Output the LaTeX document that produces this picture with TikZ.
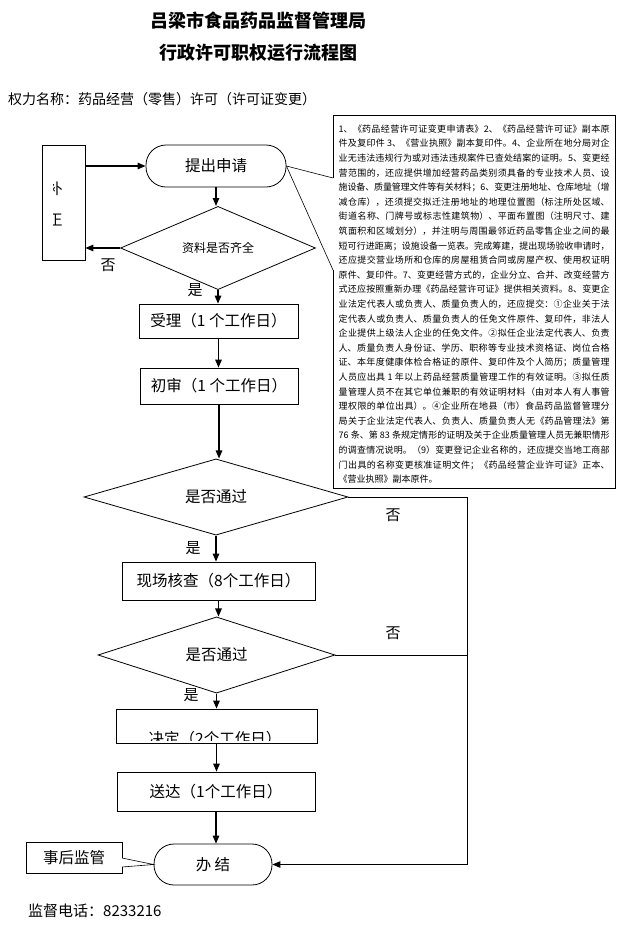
\documentclass[tikz,border=0pt]{standalone}
\usepackage{fontspec}
\setmainfont{Noto Sans CJK SC}
\usetikzlibrary{arrows.meta,shapes.geometric}
\XeTeXlinebreaklocale "zh"
\XeTeXlinebreakskip=0pt plus 1pt minus 0.2pt
\tolerance=9999
\hbadness=10000
\hfuzz=5pt
\begin{document}
\begin{tikzpicture}[x=1pt,y=-1pt,
  box/.style={draw, line width=0.8pt, inner sep=0pt, font=\fontsize{15.5}{18}\selectfont},
  rbox/.style={box, rounded corners=20pt},
  dia/.style={draw, diamond, line width=0.8pt, inner sep=0pt, font=\fontsize{15.5}{18}\selectfont},
  flow/.style={-{Triangle[length=8pt,width=6.5pt]}, line width=1.3pt},
  thinflow/.style={-{Triangle[length=8pt,width=6.5pt]}, line width=1pt},
  lbl/.style={inner sep=0pt, font=\fontsize{15}{17}\selectfont}
]
\useasboundingbox[fill=white] (0,0) rectangle (617,929);

% titles
\node[inner sep=0pt, font=\fontsize{18}{20}\selectfont\bfseries] (t1) at (258,21) {吕梁市食品药品监督管理局};
\node[inner sep=0pt, font=\fontsize{18}{20}\selectfont\bfseries] (t2) at (258,53) {行政许可职权运行流程图};
\node[inner sep=0pt, anchor=west, font=\fontsize{14}{16}\selectfont] (qname) at (8,99) {权力名称：药品经营（零售）许可（许可证变更）};

% left box (text clipped)
\node[draw, line width=0.8pt, minimum width=43pt, minimum height=115pt, inner sep=0pt] (buzheng) at (63.5,202.5) {};
\begin{scope}
\clip (53,146) rectangle (84,259);
\node[lbl] (bz1) at (55,189) {补};
\node[lbl] (bz2) at (55,220) {正};
\end{scope}

% main flow nodes
\node[rbox, minimum width=140pt, minimum height=42pt] (tiqu) at (216,166) {提出申请};
\node[dia, minimum width=195pt, minimum height=60pt, font=\fontsize{12}{14}\selectfont] (d1) at (218,248) {资料是否齐全};
\node[box, minimum width=159pt, minimum height=34pt] (shouli) at (218.5,321) {受理（1 个工作日）};
\node[box, minimum width=158pt, minimum height=36pt] (chushen) at (219,386) {初审（1 个工作日）};
\node[dia, minimum width=264pt, minimum height=62pt] (d2) at (216,497) {是否通过};
\node[box, minimum width=193pt, minimum height=38pt] (xianchang) at (218.5,581) {现场核查（8个工作日）};
\node[dia, minimum width=237pt, minimum height=60pt] (d3) at (216.5,655) {是否通过};
\node[box, minimum width=201pt, minimum height=34pt] (jueding) at (216.5,726) {};
\begin{scope}
\clip (117,710) rectangle (316,740);
\node[lbl, font=\fontsize{15.5}{18}\selectfont] (juedingtxt) at (215,739) {决定（2个工作日）};
\end{scope}
\node[box, minimum width=198pt, minimum height=39pt] (songda) at (216,791.5) {送达（1个工作日）};
\node[rbox, minimum width=118pt, minimum height=41pt] (banjie) at (213,864.5) {办 结};

% callout with requirements
\coordinate (cbtl) at (333,115);
\coordinate (cbtr) at (615,115);
\coordinate (cbbr) at (615,488);
\coordinate (cbbl) at (333,488);
\coordinate (cb1) at (333,270);
\coordinate (cb2) at (333,178);
\draw[line width=0.9pt] (cb2) -- (cbtl) -- (cbtr) -- (cbbr) -- (cbbl) -- (cb1);
\draw[line width=0.6pt] (cb1) -- (tiqu.east) -- (cb2);
\node[anchor=north west, inner sep=0pt, text width=271pt, align=justify,
      font=\fontsize{9}{14.6}\selectfont] (req) at (338.5,124.5) {\parindent=0pt
1、《药品经营许可证变更申请表》2、《药品经营许可证》副本原\linebreak
件及复印件 3、《营业执照》副本复印件。4、企业所在地分局对企\linebreak
业无违法违规行为或对违法违规案件已查处结案的证明。5、变更经\linebreak
营范围的，还应提供增加经营药品类别须具备的专业技术人员、设\linebreak
施设备、质量管理文件等有关材料；6、变更注册地址、仓库地址（增\linebreak
减仓库），还须提交拟迁注册地址的地理位置图（标注所处区域、\linebreak
街道名称、门牌号或标志性建筑物）、平面布置图（注明尺寸、建\linebreak
筑面积和区域划分），并注明与周围最邻近药品零售企业之间的最\linebreak
短可行进距离；设施设备一览表。完成筹建，提出现场验收申请时，\linebreak
还应提交营业场所和仓库的房屋租赁合同或房屋产权、使用权证明\linebreak
原件、复印件。7、变更经营方式的，企业分立、合并、改变经营方\linebreak
式还应按照重新办理《药品经营许可证》提供相关资料。8、变更企\linebreak
业法定代表人或负责人、质量负责人的，还应提交：①企业关于法\linebreak
定代表人或负责人、质量负责人的任免文件原件、复印件，非法人\linebreak
企业提供上级法人企业的任免文件。②拟任企业法定代表人、负责\linebreak
人、质量负责人身份证、学历、职称等专业技术资格证、岗位合格\linebreak
证、本年度健康体检合格证的原件、复印件及个人简历；质量管理\linebreak
人员应出具 1 年以上药品经营质量管理工作的有效证明。③拟任质\linebreak
量管理人员不在其它单位兼职的有效证明材料（由对本人有人事管\linebreak
理权限的单位出具）。④企业所在地县（市）食品药品监督管理分\linebreak
局关于企业法定代表人、负责人、质量负责人无《药品管理法》第\linebreak
76 条、第 83 条规定情形的证明及关于企业质量管理人员无兼职情形\linebreak
的调查情况说明。（9）变更登记企业名称的，还应提交当地工商部\linebreak
门出具的名称变更核准证明文件；《药品经营企业许可证》正本、\linebreak
《营业执照》副本原件。};

% aftercare callout
\coordinate (sh1) at (26,842);
\coordinate (sh2) at (122,842);
\coordinate (sh3) at (122,858);
\coordinate (sh4) at (122,867);
\coordinate (sh5) at (122,873);
\coordinate (sh6) at (26,873);
\draw[line width=0.8pt] (sh3) -- (sh2) -- (sh1) -- (sh6) -- (sh5) -- (sh4);
\draw[line width=0.6pt] (sh3) -- (banjie.west) -- (sh4);
\node[lbl, font=\fontsize{15.5}{18}\selectfont] (shihou) at (74,857.5) {事后监管};

% phone
\node[inner sep=0pt, anchor=west, font=\fontsize{15}{17}\selectfont] (phone) at (28,911) {监督电话：8233216};

% connectors
\draw[flow] (buzheng.east |- tiqu.west) -- (tiqu.west);
\draw[flow] (tiqu.south) -- (tiqu.south |- d1.north);
\draw[flow] (d1.west) -- (d1.west -| buzheng.east);
\draw[flow] (d1.south) -- (d1.south |- shouli.north);
\draw[flow] (shouli.south) -- (shouli.south |- chushen.north);
\draw[flow] (chushen.south) -- (chushen.south |- d2.north);
\draw[flow] (d2.south) -- (d2.south |- xianchang.north);
\draw[flow] (xianchang.south) -- (xianchang.south |- d3.north);
\draw[flow] (d3.south) -- (d3.south |- jueding.north);
\draw[flow] (jueding.south) -- (jueding.south |- songda.north);
\draw[flow] (songda.south) -- (songda.south |- banjie.north);

\coordinate (rt) at (467,497);
\draw[thinflow] (d2.east) -- (rt) -- (rt |- banjie.east) -- (banjie.east);
\draw[line width=1pt] (d3.east) -- (d3.east -| rt);

% branch labels
\node[lbl] (no1) at (108,265) {否};
\node[lbl] (yes1) at (195,290) {是};
\node[lbl] (no2) at (393,515) {否};
\node[lbl] (yes2) at (193,548) {是};
\node[lbl] (no3) at (393,633) {否};
\node[lbl] (yes3) at (191,695) {是};
\end{tikzpicture}
\end{document}
